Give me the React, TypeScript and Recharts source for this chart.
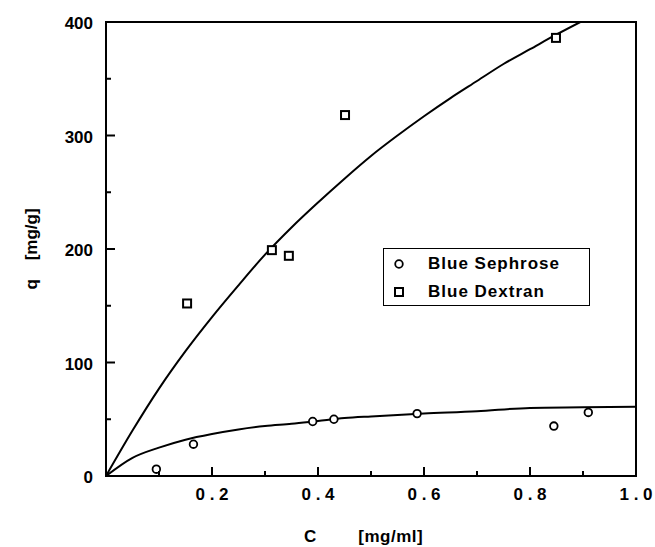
import { ComposedChart, Line, Scatter, XAxis, YAxis, ReferenceArea, Legend } from 'recharts';

// measured points
const sephroseC = [0.095, 0.165, 0.39, 0.43, 0.587, 0.845, 0.91];
const sephroseQ = [6, 28, 48, 50, 55, 44, 56];
const dextranC = [0.153, 0.313, 0.345, 0.451, 0.849];
const dextranQ = [152, 199, 194, 318, 386];

// fitted curves
const sephroseFitC = [0, 0.05, 0.1, 0.15, 0.2, 0.25, 0.3, 0.35, 0.4, 0.45, 0.5, 0.6, 0.7, 0.8, 0.9, 1.0];
const sephroseFitQ = [0, 16, 25, 32, 37, 41, 44, 46, 48.5, 51, 52.5, 55, 57, 60, 60.5, 61];
const dextranFitC = [0, 0.05, 0.1, 0.15, 0.2, 0.25, 0.3, 0.35, 0.4, 0.45, 0.5, 0.55, 0.6, 0.65, 0.7, 0.75, 0.8, 0.85, 0.895];
const dextranFitQ = [0, 40, 77, 110, 140, 168, 195, 219, 241, 262, 282, 300, 317, 333, 348, 363, 376, 389, 400];

const xTicks = [0.1, 0.2, 0.3, 0.4, 0.5, 0.6, 0.7, 0.8, 0.9, 1.0];
const yTicks = [0, 50, 100, 150, 200, 250, 300, 350, 400];

const toRows = (xs: number[], ys: number[]) => xs.map((c, i) => ({ c, q: ys[i] }));

const sephrosePts = toRows(sephroseC, sephroseQ);
const dextranPts = toRows(dextranC, dextranQ);
const sephroseFit = toRows(sephroseFitC, sephroseFitQ);
const dextranFit = toRows(dextranFitC, dextranFitQ);

const FONT = '"Liberation Sans", Arial, sans-serif';

function XTick({ x, y, payload }: any) {
  const v = payload.value as number;
  const major = Math.round(v * 10) % 2 === 0;
  return (
    <g>
      <line x1={x} x2={x} y1={y} y2={y - (major ? 9 : 5)} stroke="#000" strokeWidth={2} />
      {major && (
        <text x={x} y={y + 24} textAnchor="middle" fontFamily={FONT} fontWeight="bold" fontSize={17} fill="#000">
          {v.toFixed(1).split('').join(' ')}
        </text>
      )}
    </g>
  );
}

function YTick({ x, y, payload }: any) {
  const v = payload.value as number;
  const major = v % 100 === 0;
  return (
    <g>
      <line x1={x} x2={x + (major ? 9 : 5)} y1={y} y2={y} stroke="#000" strokeWidth={2} />
      {major && (
        <text x={x - 13} y={y + 7} textAnchor="end" fontFamily={FONT} fontWeight="bold" fontSize={17} fill="#000">
          {v}
        </text>
      )}
    </g>
  );
}

const circleShape = (p: any) => (
  <circle cx={p.cx} cy={p.cy} r={3.8} fill="#fff" stroke="#000" strokeWidth={1.8} />
);
const squareShape = (p: any) => (
  <rect x={p.cx - 4} y={p.cy - 4} width={8} height={8} fill="#fff" stroke="#000" strokeWidth={2} />
);

function LegendBox() {
  const rows = [
    { name: 'Blue Sephrose', icon: <circle cx={7} cy={7} r={3.8} fill="#fff" stroke="#000" strokeWidth={1.8} /> },
    { name: 'Blue Dextran', icon: <rect x={3} y={3} width={8} height={8} fill="#fff" stroke="#000" strokeWidth={2} /> },
  ];
  return (
    <div
      style={{
        width: 205,
        height: 56,
        border: '1.5px solid #000',
        background: '#fff',
        position: 'relative',
        fontFamily: FONT,
        fontWeight: 'bold',
        fontSize: 17,
        letterSpacing: 1,
      }}
    >
      {rows.map((r, i) => (
        <div key={r.name} style={{ position: 'absolute', left: 8, top: 4 + i * 28, height: 22, display: 'flex', alignItems: 'center' }}>
          <svg width={14} height={14} style={{ marginRight: 22 }}>
            {r.icon}
          </svg>
          <span>{r.name}</span>
        </div>
      ))}
    </div>
  );
}

export default function App() {
  return (
    <div style={{ width: 655, height: 547, background: '#fff' }}>
      <style>{'html,body{margin:0;padding:0;overflow:hidden;background:#fff}'}</style>
      <ComposedChart
        width={655}
        height={547}
        margin={{ top: 22, right: 19, bottom: 21, left: 46 }}
      >
        <XAxis
          type="number"
          dataKey="c"
          domain={[0, 1]}
          ticks={xTicks}
          tick={<XTick />}
          tickSize={0}
          tickMargin={0}
          tickLine={false}
          axisLine={{ stroke: '#000', strokeWidth: 2 }}
          height={50}
          interval={0}
          allowDataOverflow
          label={({ viewBox }: any) => {
            const y = viewBox.y + 66;
            return (
              <text y={y} fontFamily={FONT} fontWeight="bold" fontSize={17} fill="#000">
                <tspan x={viewBox.x + viewBox.width * 0.385} textAnchor="middle">C</tspan>
                <tspan x={viewBox.x + viewBox.width * 0.476} textAnchor="start" letterSpacing={0.5}>[mg/ml]</tspan>
              </text>
            );
          }}
        />
        <YAxis
          type="number"
          dataKey="q"
          domain={[0, 400]}
          ticks={yTicks}
          tick={<YTick />}
          tickSize={0}
          tickMargin={0}
          tickLine={false}
          axisLine={{ stroke: '#000', strokeWidth: 2 }}
          width={60}
          interval={0}
          allowDataOverflow
          label={({ viewBox }: any) => {
            const cx = 31;
            const cy = viewBox.y + viewBox.height / 2;
            return (
              <text
                x={cx}
                y={cy}
                transform={`rotate(-90 ${cx} ${cy})`}
                textAnchor="middle"
                dominantBaseline="central"
                fontFamily={FONT}
                fontWeight="bold"
                fontSize={17}
                fill="#000"
                style={{ whiteSpace: 'pre' }}
              >
                {'q    [mg/g]'}
              </text>
            );
          }}
        />
        <ReferenceArea x1={0} x2={1} y1={0} y2={400} fill="none" stroke="#000" strokeWidth={2} ifOverflow="visible" />
        <Line data={dextranFit} dataKey="q" type="monotone" stroke="#000" strokeWidth={2} dot={false} isAnimationActive={false} legendType="none" />
        <Line data={sephroseFit} dataKey="q" type="monotone" stroke="#000" strokeWidth={2} dot={false} isAnimationActive={false} legendType="none" />
        <Scatter name="Blue Sephrose" data={sephrosePts} dataKey="q" shape={circleShape} isAnimationActive={false} />
        <Scatter name="Blue Dextran" data={dextranPts} dataKey="q" shape={squareShape} isAnimationActive={false} />
        <Legend
          layout="horizontal"
          verticalAlign="middle"
          align="center"
          content={<LegendBox />}
          wrapperStyle={{ position: 'absolute', left: 383, top: 248, width: 'auto', bottom: 'auto' }}
        />
      </ComposedChart>
    </div>
  );
}
